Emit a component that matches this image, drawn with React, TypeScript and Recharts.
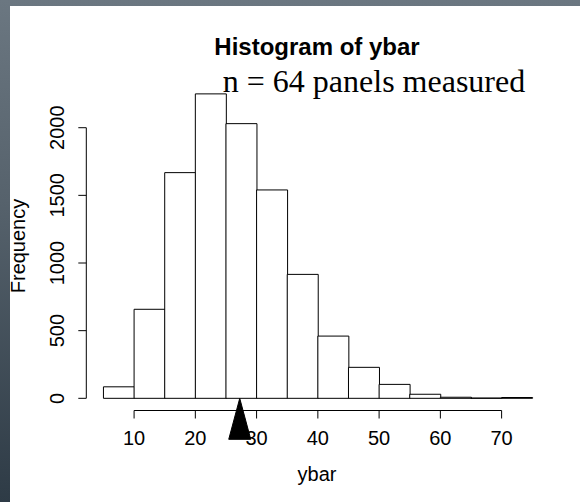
import React from 'react';
import { ComposedChart, Bar, XAxis, YAxis, ReferenceLine, ReferenceDot } from 'recharts';

const binStarts = [5, 10, 15, 20, 25, 30, 35, 40, 45, 50, 55, 60, 65, 70];
const binWidth = 5;
const counts = [85, 658, 1668, 2250, 2030, 1540, 916, 460, 229, 103, 30, 8, 2, 6];
const xTicks = [10, 20, 30, 40, 50, 60, 70];
const yTicks = [0, 500, 1000, 1500, 2000];
const meanYbar = 27.25;
const titleText = 'Histogram of ybar';
const subtitleText = 'n = 64 panels measured';
const xLabelText = 'ybar';
const yLabelText = 'Frequency';

const data = binStarts.map((s, i) => ({ mid: s + binWidth / 2, count: counts[i] }));
const mids = data.map((d) => d.mid);
const xLo = binStarts[0];
const xHi = binStarts[binStarts.length - 1] + binWidth;
const xPad = 0.04 * (xHi - xLo);
const yMax = Math.max(...counts);
const yPad = 0.04 * yMax;
const xDomain = [xLo - xPad, xHi + xPad];
const yDomain = [-yPad, yMax + yPad];

const SANS = '"Liberation Sans", Arial, Helvetica, sans-serif';
const SERIF = '"Liberation Serif", "Times New Roman", serif';

const XTick = (props: any) => {
  const { x, y, payload } = props;
  return (
    <text x={x} y={y + 26} textAnchor="middle" fontFamily={SANS} fontSize={20} fill="#000">
      {payload.value}
    </text>
  );
};

const YTick = (props: any) => {
  const { x, y, payload } = props;
  return (
    <text
      transform={`translate(${x - 14}, ${y}) rotate(-90)`}
      textAnchor="middle"
      fontFamily={SANS}
      fontSize={20}
      fill="#000"
    >
      {payload.value}
    </text>
  );
};

const Triangle = (props: any) => {
  const { cx, cy } = props;
  return <polygon points={`${cx},${cy} ${cx - 11},${cy + 41} ${cx + 11},${cy + 41}`} fill="#000" stroke="#000" />;
};

export default function App() {
  return (
    <div
      style={{
        position: 'absolute',
        left: 0,
        top: 0,
        width: 580,
        height: 502,
        background: 'linear-gradient(to bottom, #6b7781 0%, #56626c 40%, #2e3b46 100%)',
        overflow: 'hidden',
      }}
    >
      <div style={{ position: 'absolute', left: 10, top: 6, width: 570, height: 496, background: '#fff' }} />
      <div style={{ position: 'absolute', left: 0, top: 0 }}>
        <ComposedChart
          width={580}
          height={502}
          data={data}
          margin={{ top: 81.7, right: 30.6, bottom: 61.5, left: 26.3 }}
          barCategoryGap={0}
          barGap={0}
        >
          <XAxis
            dataKey="mid"
            type="number"
            domain={xDomain}
            ticks={xTicks}
            axisLine={false}
            tickLine={{ stroke: '#000' }}
            tickSize={8}
            tickMargin={0}
            height={30}
            tick={<XTick />}
            interval={0}
          />
          <XAxis xAxisId="bins" dataKey="mid" type="number" domain={xDomain} ticks={mids} hide />
          <YAxis
            type="number"
            domain={yDomain}
            ticks={yTicks}
            axisLine={false}
            tickLine={{ stroke: '#000' }}
            tickSize={8}
            tickMargin={0}
            width={60}
            tick={<YTick />}
            interval={0}
          />
          <Bar
            xAxisId="bins"
            dataKey="count"
            fill="#fff"
            stroke="#000"
            strokeWidth={1}
            isAnimationActive={false}
          />
          <ReferenceLine
            segment={[{ x: xTicks[0], y: yDomain[0] }, { x: xTicks[xTicks.length - 1], y: yDomain[0] }]}
            stroke="#000"
            strokeWidth={1}
            ifOverflow="visible"
          />
          <ReferenceLine
            segment={[{ x: xDomain[0], y: yTicks[0] }, { x: xDomain[0], y: yTicks[yTicks.length - 1] }]}
            stroke="#000"
            strokeWidth={1}
            ifOverflow="visible"
          />
          <ReferenceDot x={meanYbar} y={0} r={11} ifOverflow="visible" shape={<Triangle />} />
        </ComposedChart>
      </div>
      <svg width={580} height={502} style={{ position: 'absolute', left: 0, top: 0, pointerEvents: 'none' }}>
        <text x={317} y={55} textAnchor="middle" fontFamily={SANS} fontWeight="bold" fontSize={24} fill="#000">
          {titleText}
        </text>
        <text x={374} y={92} textAnchor="middle" fontFamily={SERIF} fontSize={32} fill="#000">
          {subtitleText}
        </text>
        <text x={317} y={481} textAnchor="middle" fontFamily={SANS} fontSize={20} fill="#000">
          {xLabelText}
        </text>
        <text transform="translate(25, 246) rotate(-90)" textAnchor="middle" fontFamily={SANS} fontSize={20} fill="#000">
          {yLabelText}
        </text>
      </svg>
    </div>
  );
}
